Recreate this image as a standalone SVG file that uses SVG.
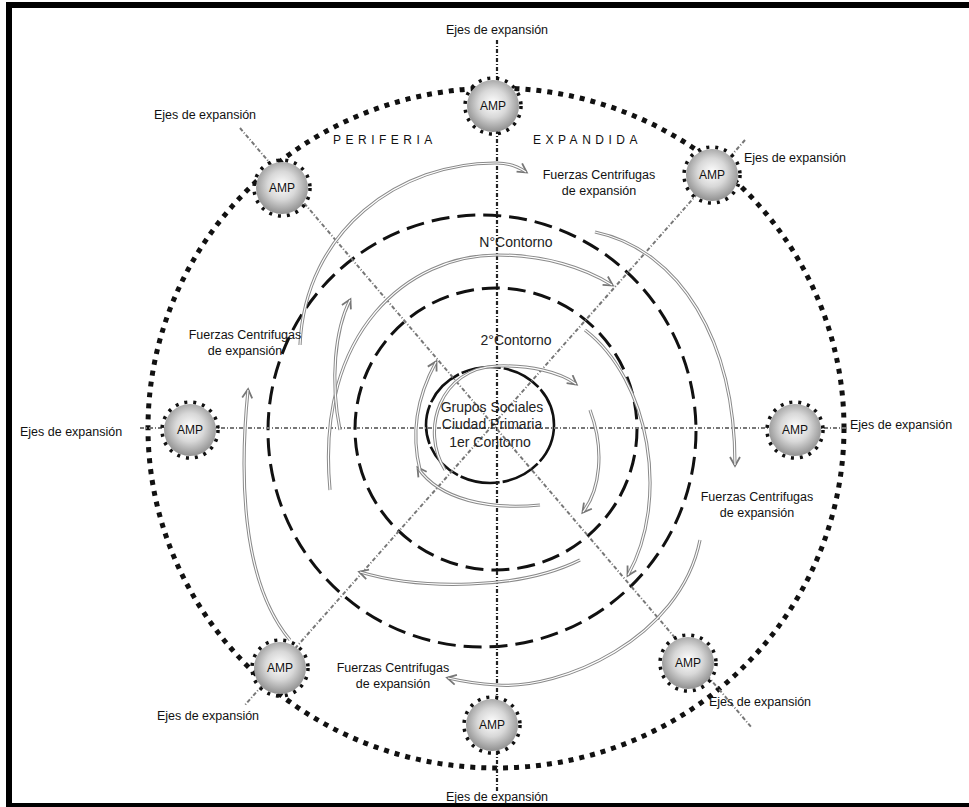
<svg xmlns="http://www.w3.org/2000/svg" width="969" height="807" viewBox="0 0 969 807">
<defs>
<radialGradient id="sph" cx="0.5" cy="0.45" r="0.55">
<stop offset="0" stop-color="#ffffff"/>
<stop offset="0.5" stop-color="#d8d8d8"/>
<stop offset="1" stop-color="#909090"/>
</radialGradient>
<marker id="ah" viewBox="0 0 12 12" refX="9" refY="6" markerWidth="12" markerHeight="12" markerUnits="userSpaceOnUse" orient="auto">
<path d="M1 1 L10 6 L1 11" fill="none" stroke="#777" stroke-width="1.8"/>
</marker>
</defs>
<style>
.lbl{font-family:"Liberation Sans",Arial,sans-serif;font-size:12.5px;fill:#111}
.amp{font-family:"Liberation Sans",Arial,sans-serif;font-size:12px;fill:#111;text-anchor:middle}
.ctr{font-family:"Liberation Sans",Arial,sans-serif;font-size:14px;fill:#222;text-anchor:middle}
.per{font-family:"Liberation Sans",Arial,sans-serif;font-size:12px;fill:#111;letter-spacing:4.5px}
.ring{fill:none;stroke:#111;stroke-width:3;stroke-dasharray:18 8}
.outer{fill:none;stroke:#111;stroke-width:5;stroke-dasharray:5 6}
.axis{fill:none;stroke:#777;stroke-width:2;stroke-dasharray:4 2 1 2}
.vaxis{fill:none;stroke:#222;stroke-width:2.2;stroke-dasharray:4 2 1 2}
.fo{fill:none;stroke:#8a8a8a;stroke-width:3.2}
.fi{fill:none;stroke:#fff;stroke-width:1.2}
.dots{fill:none;stroke:#111;stroke-width:3.5;stroke-dasharray:3 6}
</style>
<rect x="0" y="0" width="969" height="807" fill="#fff"/>
<g id="frame" fill="#000">
<rect x="6" y="2" width="963" height="6"/>
<rect x="6" y="2" width="6" height="805"/>
<rect x="6" y="803" width="963" height="4"/>
</g>
<g id="rings">
<ellipse class="outer" cx="496" cy="428" rx="348" ry="340"/>
<ellipse class="ring" cx="482" cy="431" rx="214" ry="216"/>
<circle class="ring" cx="496" cy="429" r="141"/>
<ellipse cx="490" cy="425" rx="64" ry="58" fill="none" stroke="#111" stroke-width="2.6" stroke-dasharray="40 3"/>
</g>
<g id="axes">
<line class="vaxis" x1="497" y1="40" x2="497" y2="792"/>
<line class="axis" x1="140" y1="428" x2="848" y2="428"/>
<line class="axis" x1="240" y1="128" x2="752" y2="728"/>
<line class="axis" x1="745" y1="140" x2="245" y2="705"/>
</g>
<g id="connectors">
<path class="fo" d="M300 345 C305 230 400 162 497 163 C507 163 517 166 526 172" marker-end="url(#ah)"/>
<path class="fi" d="M300 345 C305 230 400 162 497 163 C507 163 517 166 526 172"/>
<path class="fo" d="M330 490 C315 330 410 255 497 255 C545 255 585 268 612 285" marker-end="url(#ah)"/>
<path class="fi" d="M330 490 C315 330 410 255 497 255 C545 255 585 268 612 285"/>
<path class="fo" d="M595 232 C680 250 735 340 735 465" marker-end="url(#ah)"/>
<path class="fi" d="M595 232 C680 250 735 340 735 465"/>
<path class="fo" d="M585 330 C650 380 670 500 628 575" marker-end="url(#ah)"/>
<path class="fi" d="M585 330 C650 380 670 500 628 575"/>
<path class="fo" d="M700 540 C680 640 560 690 497 685 C480 684 465 682 448 678" marker-end="url(#ah)"/>
<path class="fi" d="M700 540 C680 640 560 690 497 685 C480 684 465 682 448 678"/>
<path class="fo" d="M290 640 C240 580 240 470 248 390" marker-end="url(#ah)"/>
<path class="fi" d="M290 640 C240 580 240 470 248 390"/>
<path class="fo" d="M580 560 C520 590 420 590 360 572" marker-end="url(#ah)"/>
<path class="fi" d="M580 560 C520 590 420 590 360 572"/>
<path class="fo" d="M340 430 C330 380 335 330 350 300" marker-end="url(#ah)"/>
<path class="fi" d="M340 430 C330 380 335 330 350 300"/>
<path class="fo" d="M445 470 C420 430 440 368 497 366 C530 365 560 372 576 384" marker-end="url(#ah)"/>
<path class="fi" d="M445 470 C420 430 440 368 497 366 C530 365 560 372 576 384"/>
<path class="fo" d="M590 410 C605 450 600 490 583 512" marker-end="url(#ah)"/>
<path class="fi" d="M590 410 C605 450 600 490 583 512"/>
<path class="fo" d="M540 505 C490 510 440 500 418 468" marker-end="url(#ah)"/>
<path class="fi" d="M540 505 C490 510 440 500 418 468"/>
<path class="fo" d="M420 470 C410 430 418 395 436 362" marker-end="url(#ah)"/>
<path class="fi" d="M420 470 C410 430 418 395 436 362"/>
</g>
<g id="amp-top"><circle cx="493" cy="106" r="26" fill="url(#sph)"/><circle class="dots" cx="493" cy="106" r="28"/><text class="amp" x="493" y="110">AMP</text></g>
<g id="amp-ul"><circle cx="282" cy="188" r="26" fill="url(#sph)"/><circle class="dots" cx="282" cy="188" r="28"/><text class="amp" x="282" y="192">AMP</text></g>
<g id="amp-ur"><circle cx="712" cy="175" r="26" fill="url(#sph)"/><circle class="dots" cx="712" cy="175" r="28"/><text class="amp" x="712" y="179">AMP</text></g>
<g id="amp-left"><circle cx="190" cy="430" r="26" fill="url(#sph)"/><circle class="dots" cx="190" cy="430" r="28"/><text class="amp" x="190" y="434">AMP</text></g>
<g id="amp-right"><circle cx="795" cy="430" r="26" fill="url(#sph)"/><circle class="dots" cx="795" cy="430" r="28"/><text class="amp" x="795" y="434">AMP</text></g>
<g id="amp-ll"><circle cx="280" cy="668" r="26" fill="url(#sph)"/><circle class="dots" cx="280" cy="668" r="28"/><text class="amp" x="280" y="672">AMP</text></g>
<g id="amp-lr"><circle cx="688" cy="663" r="26" fill="url(#sph)"/><circle class="dots" cx="688" cy="663" r="28"/><text class="amp" x="688" y="667">AMP</text></g>
<g id="amp-bottom"><circle cx="492" cy="725" r="26" fill="url(#sph)"/><circle class="dots" cx="492" cy="725" r="28"/><text class="amp" x="492" y="729">AMP</text></g>
<g id="labels">
<text class="lbl" x="497" y="34" text-anchor="middle">Ejes de expansión</text>
<text class="lbl" x="205" y="119" text-anchor="middle">Ejes de expansión</text>
<text class="lbl" x="795" y="162" text-anchor="middle">Ejes de expansión</text>
<text class="lbl" x="20" y="436">Ejes de expansión</text>
<text class="lbl" x="850" y="429">Ejes de expansión</text>
<text class="lbl" x="208" y="720" text-anchor="middle">Ejes de expansión</text>
<text class="lbl" x="760" y="706" text-anchor="middle">Ejes de expansión</text>
<text class="lbl" x="497" y="801" text-anchor="middle">Ejes de expansión</text>
<text class="per" x="333" y="144">PERIFERIA</text>
<text class="per" x="533" y="144">EXPANDIDA</text>
<text class="lbl" x="599" y="179" text-anchor="middle">Fuerzas Centrifugas</text>
<text class="lbl" x="599" y="195" text-anchor="middle">de expansión</text>
<text class="lbl" x="245" y="339" text-anchor="middle">Fuerzas Centrifugas</text>
<text class="lbl" x="245" y="355" text-anchor="middle">de expansión</text>
<text class="lbl" x="757" y="501" text-anchor="middle">Fuerzas Centrifugas</text>
<text class="lbl" x="757" y="517" text-anchor="middle">de expansión</text>
<text class="lbl" x="393" y="672" text-anchor="middle">Fuerzas Centrifugas</text>
<text class="lbl" x="393" y="688" text-anchor="middle">de expansión</text>
<text class="ctr" x="516" y="247">N°Contorno</text>
<text class="ctr" x="516" y="345">2°Contorno</text>
<text class="ctr" x="492" y="412">Grupos Sociales</text>
<text class="ctr" x="492" y="429">Ciudad Primaria</text>
<text class="ctr" x="490" y="447">1er Contorno</text>
</g>
</svg>
